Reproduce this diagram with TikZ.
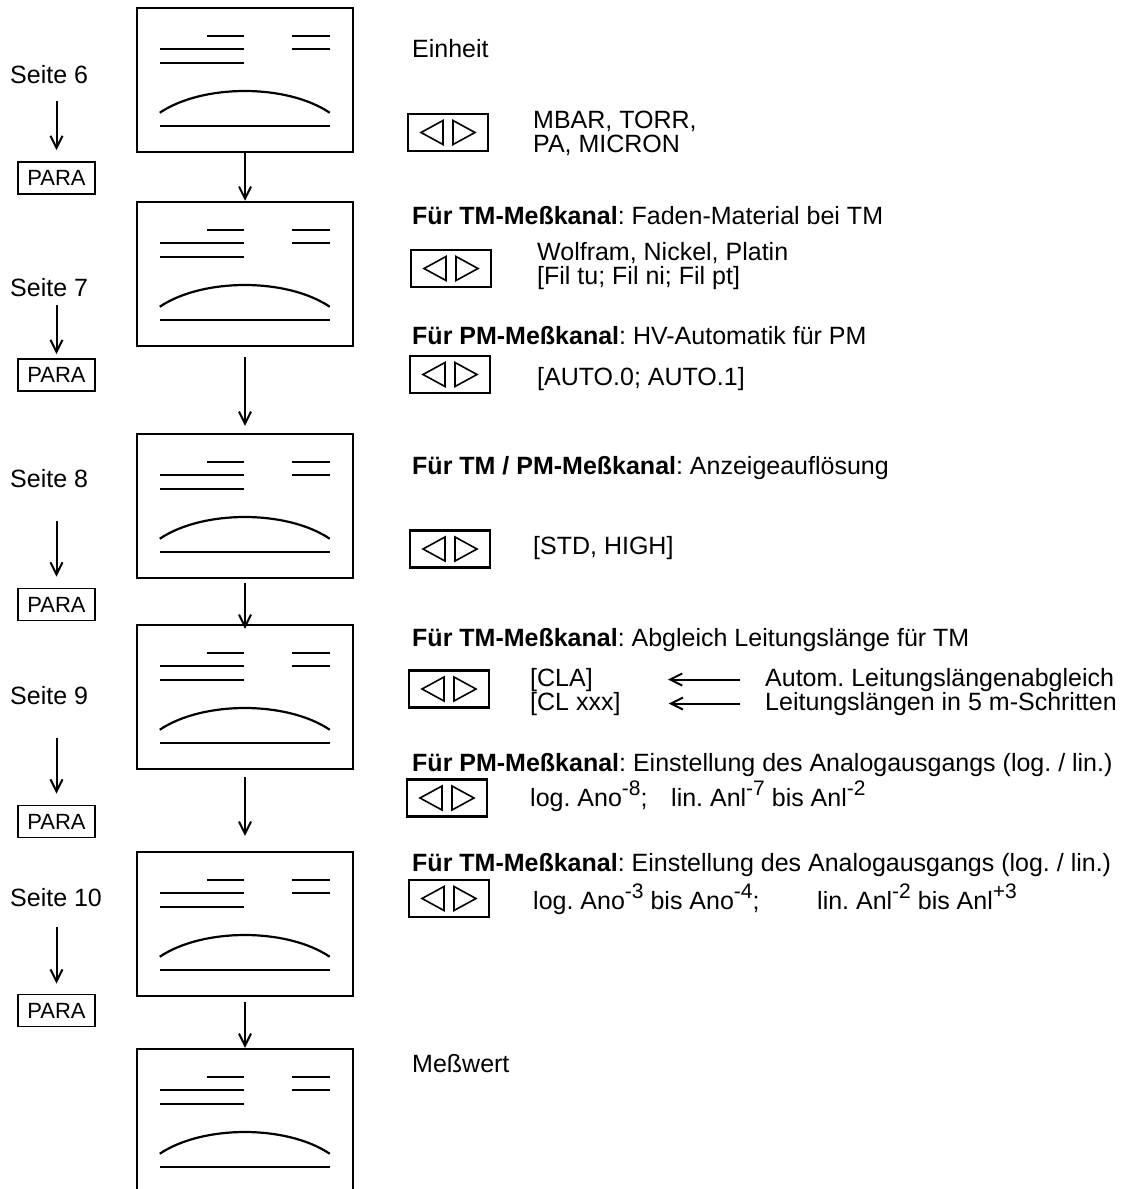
\documentclass[tikz,border=0pt]{standalone}
\usepackage{fontspec}
\setmainfont{Liberation Sans}
\usetikzlibrary{calc, positioning, arrows.meta}
\frenchspacing

\tikzset{
  display/.style={draw, line width=2.5pt, minimum width=216pt, minimum height=144pt, inner sep=0pt},
  taste/.style={draw, line width=2.2pt, minimum width=80pt, minimum height=37pt, inner sep=0pt},
  parabox/.style={draw, line width=1.8pt, minimum width=77pt, minimum height=32pt, inner sep=0pt,
                  font=\fontsize{22}{22}\selectfont},
  txt/.style={anchor=base west, inner sep=0pt},
  flow/.style={line width=2pt, -{Straight Barb[length=12pt,width=12pt]}},
  seg/.style={line width=2.2pt},
}

% Anzeige: Striche und Bogen im Display
\newcommand{\lcdface}[1]{%
  \draw[seg] ($(#1.north west)+(71,29.5)$) -- ++(37,0);
  \draw[seg] ($(#1.north west)+(156,29.5)$) -- ++(38,0);
  \draw[seg] ($(#1.north west)+(156,42.5)$) -- ++(38,0);
  \draw[seg] ($(#1.north west)+(24,42.5)$) -- ++(84,0);
  \draw[seg] ($(#1.north west)+(24,56)$) -- ++(84,0);
  \draw[seg] ($(#1.north west)+(24,106)$) .. controls ($(#1.north west)+(67,77)$)
    and ($(#1.north west)+(151,77)$) .. ($(#1.north west)+(194,106)$);
  \draw[seg] ($(#1.north west)+(24,119)$) -- ++(170,0);
}
% Taste mit zwei Dreiecken
\newcommand{\tastenface}[1]{%
  \draw[line width=1.6pt] ($(#1.center)+(-5,-12)$) -- ($(#1.center)+(-5,12)$) -- ($(#1.center)+(-27,0)$) -- cycle;
  \draw[line width=1.6pt] ($(#1.center)+(5,-12)$) -- ($(#1.center)+(5,12)$) -- ($(#1.center)+(27,0)$) -- cycle;
}
\newcommand{\hoch}[1]{\raisebox{0.42em}{\fontsize{21}{21}\selectfont #1}}

\begin{document}
\begin{tikzpicture}[x=1pt, y=-1pt, font=\fontsize{25}{25}\selectfont]
  \useasboundingbox (0,0) rectangle (1132,1189);
  \clip (0,0) rectangle (1132,1189);

  % Displays
  \node[display] (d1) at (245,80) {};
  \node[display] (d2) at (245,274) {};
  \node[display] (d3) at (245,506) {};
  \node[display] (d4) at (245,697) {};
  \node[display] (d5) at (245,924) {};
  \node[display] (d6) at (245,1121) {};
  \lcdface{d1} \lcdface{d2} \lcdface{d3} \lcdface{d4} \lcdface{d5} \lcdface{d6}

  \draw[flow] (d1.south) -- (d2.north);
  \draw[flow, shorten <=10pt, shorten >=7pt] (d2.south) -- (d3.north);
  \draw[flow, shorten <=4pt, shorten >=-5pt] (d3.south) -- (d4.north);
  \draw[flow, shorten <=7pt, shorten >=15pt] (d4.south) -- (d5.north);
  \draw[flow, shorten <=5pt] (d5.south) -- (d6.north);

  % Seiten und PARA
  \node[txt] (s6) at (10,83) {Seite 6};
  \node[txt] (s7) at (10,296) {Seite 7};
  \node[txt] (s8) at (10,487) {Seite 8};
  \node[txt] (s9) at (10,704) {Seite 9};
  \node[txt] (s10) at (10,906) {Seite 10};
  \node[parabox] (p6) at (56.5,178) {PARA};
  \node[parabox] (p7) at (56.5,375) {PARA};
  \node[parabox] (p8) at (56.5,604.5) {PARA};
  \node[parabox] (p9) at (56.5,821.5) {PARA};
  \node[parabox] (p10) at (56.5,1010.5) {PARA};
  \draw[flow, shorten <=18pt, shorten >=11pt] (s6.south -| p6.north) -- (p6.north);
  \draw[flow, shorten <=9pt, shorten >=4pt] (s7.south -| p7.north) -- (p7.north);
  \draw[flow, shorten <=34pt, shorten >=11pt] (s8.south -| p8.north) -- (p8.north);
  \draw[flow, shorten <=34pt, shorten >=11pt] (s9.south -| p9.north) -- (p9.north);
  \draw[flow, shorten <=21pt, shorten >=10pt] (s10.south -| p10.north) -- (p10.north);

  % Tasten
  \node[taste] (t1) at (448,132.5) {};
  \node[taste] (t2) at (451,268.5) {};
  \node[taste] (t3) at (450,374.5) {};
  \node[taste] (t4) at (450,549) {};
  \node[taste] (t5) at (449,689) {};
  \node[taste] (t6) at (447,798) {};
  \node[taste] (t7) at (449,898.5) {};
  \tastenface{t1} \tastenface{t2} \tastenface{t3} \tastenface{t4}
  \tastenface{t5} \tastenface{t6} \tastenface{t7}

  % Texte rechts
  \node[txt] (einheit) at (412,57) {Einheit};
  \node[txt] (mbar) at (533,128) {MBAR, TORR,};
  \node[txt] (pa) at (533,152) {PA, MICRON};

  \node[txt] (faden) at (412,224) {\textbf{Für TM-Meßkanal}: Faden-Material bei TM};
  \node[txt] (wolfram) at (537,260) {Wolfram, Nickel, Platin};
  \node[txt] (fil) at (537,284) {[Fil tu; Fil ni; Fil pt]};

  \node[txt] (hv) at (412,344) {\textbf{Für PM-Meßkanal}: HV-Automatik für PM};
  \node[txt] (auto) at (537,385) {[AUTO.0; AUTO.1]};

  \node[txt] (aufl) at (412,474) {\textbf{Für TM / PM-Meßkanal}: Anzeigeauflösung};
  \node[txt] (std) at (533,554) {[STD, HIGH]};

  \node[txt] (abgl) at (412,646) {\textbf{Für TM-Meßkanal}: Abgleich Leitungslänge für TM};
  \node[txt] (cla) at (530,686) {[CLA]};
  \node[txt] (clx) at (530,710) {[CL xxx]};
  \node[txt] (autom) at (765,686) {Autom. Leitungslängenabgleich};
  \node[txt] (schritt) at (765,710) {Leitungslängen in 5 m-Schritten};
  \draw[flow, shorten <=25pt, shorten >=75pt] (autom.west) -- (autom.west -| cla.east);
  \draw[flow, shorten <=25pt, shorten >=48pt] (schritt.west) -- (schritt.west -| clx.east);

  \node[txt] (pmana) at (412,771) {\textbf{Für PM-Meßkanal}: Einstellung des Analogausgangs (log. / lin.)};
  \node[txt] (log6) at (530,806) {log. Ano\hoch{-8};};
  \node[txt] (lin6) at (671,806) {lin. Anl\hoch{-7} bis Anl\hoch{-2}};

  \node[txt] (tmana) at (412,871) {\textbf{Für TM-Meßkanal}: Einstellung des Analogausgangs (log. / lin.)};
  \node[txt] (log7) at (533,909) {log. Ano\hoch{-3} bis Ano\hoch{-4};};
  \node[txt] (lin7) at (817,909) {lin. Anl\hoch{-2} bis Anl\hoch{+3}};

  \node[txt] (messwert) at (412,1072) {Meßwert};
\end{tikzpicture}
\end{document}
